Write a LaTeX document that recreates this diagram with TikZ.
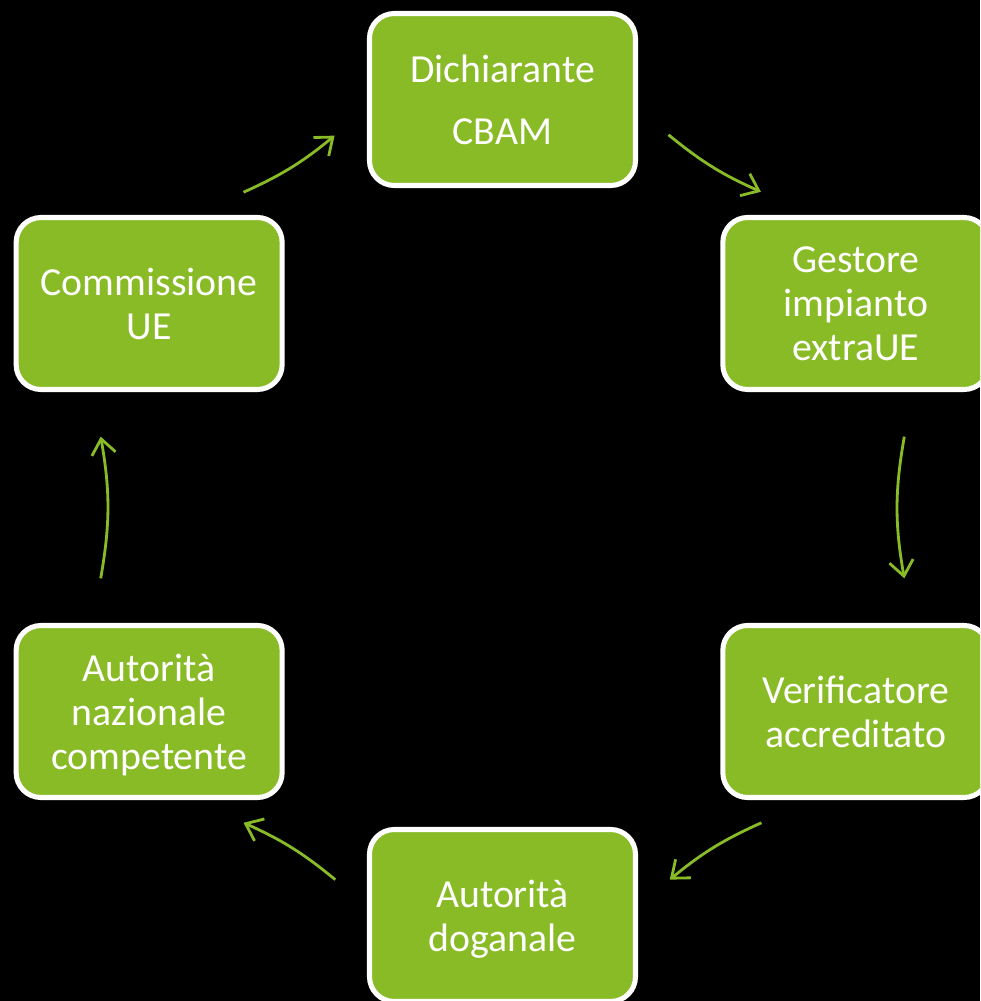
\documentclass[tikz,border=0pt]{standalone}
\usepackage{fontspec}
\setmainfont{Carlito}
\usetikzlibrary{arrows.meta}
\definecolor{cbamgreen}{RGB}{136,187,38}

\begin{document}
\begin{tikzpicture}[
  box/.style={draw=white, line width=3.6pt, fill=cbamgreen, rounded corners=0.62cm,
    minimum width=6.65cm, minimum height=4.3cm, inner sep=0pt, align=center,
    text=white, text depth=0pt, font=\fontsize{28.3}{31.3}\selectfont},
  arr/.style={draw=cbamgreen, line width=2pt, -{Straight Barb[length=0.38cm,width=0.6cm]}}]
  \def\R{10.2} % radius of the cycle
  \def\basea{60} % 360/6

  % black page
  \clip (-12.5625,-12.3375) rectangle (11.9375,12.6875);
  \fill[black] (-12.5625,-12.3375) rectangle (11.9375,12.6875);

  % boxes
  \node[box, font=\fontsize{28.3}{44.1}\selectfont] (dich) at (90:\R) {Dichiarante\\CBAM};
  \node[box] (gest) at ({90-\basea}:\R) {Gestore\\impianto\\extraUE};
  \node[box] (veri) at ({90-2*\basea}:\R) {Verificatore\\accreditato};
  \node[box] (doga) at ({90-3*\basea}:\R) {Autorità\\doganale};
  \node[box] (naz) at ({90-4*\basea}:\R) {Autorità\\nazionale\\competente};
  \node[box] (comm) at ({90-5*\basea}:\R) {Commissione\\UE};

  % arrows
  \foreach \a/\b [count=\i] in {66/50.7, 10/-10, -50.6/-65.8, -114.2/-129.4, 190/170, 129.4/114.3}
    {\coordinate (s\i) at (\a:\R); % start
     \coordinate (e\i) at (\b:\R); % tip
     \pgfmathsetmacro\bend{(\a-\b)/2}
     \draw[arr] (s\i) to[bend right=\bend] (e\i);}
\end{tikzpicture}
\end{document}
